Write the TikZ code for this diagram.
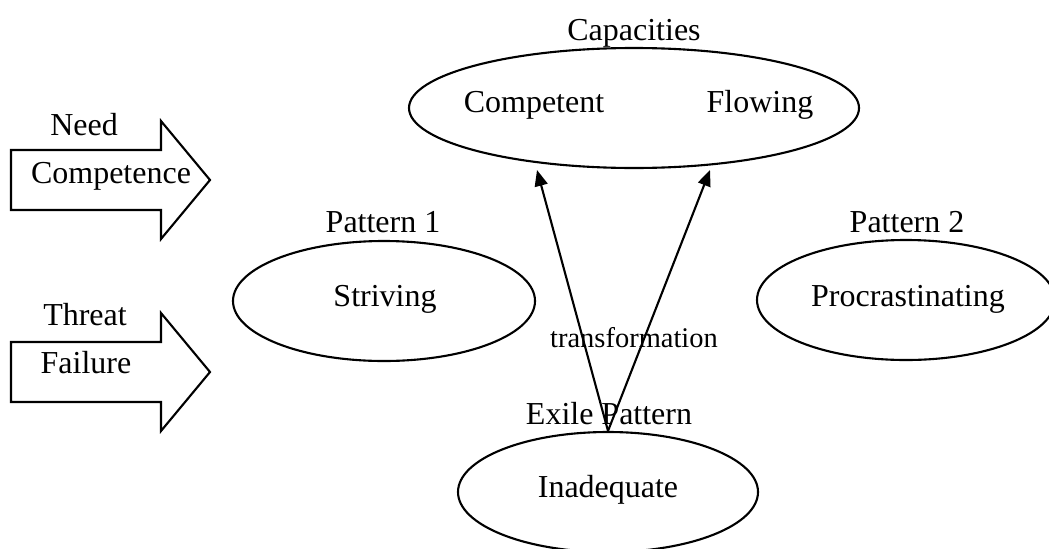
\documentclass[tikz,border=0pt]{standalone}
\usepackage{fontspec}
\setmainfont{Liberation Serif}
\usetikzlibrary{shapes.geometric,arrows.meta}
\tikzset{
	oval/.style={draw, ellipse, line width=0.6pt, inner sep=0pt, minimum height=1.2cm},
	txt/.style={anchor=base, inner sep=0pt, font=\fontsize{9.1}{10}\selectfont},
	blockarrow/.style={draw, line width=0.6pt},
	trans/.style={-{Triangle[length=1.6mm,width=1.3mm]}, line width=0.6pt}
}
\begin{document}
\begin{tikzpicture}
		% Rahmen
		\useasboundingbox (0,0) rectangle (10.49,5.48);
		% Blockpfeile links
		\foreach \y in {3.38,1.46} {
			\draw [blockarrow] (0.11,\y) -- ++(0,0.60) -- ++(1.5,0) -- ++(0,0.29) -- ++(0.49,-0.59) -- ++(-0.49,-0.59) -- ++(0,0.29) -- cycle;
		}
		\node [txt] (need) at (0.84,4.13) {Need};
		\node [txt] (competence) at (1.11,3.65) {Competence};
		\node [txt] (threat) at (0.85,2.23) {Threat};
		\node [txt] (failure) at (0.86,1.75) {Failure};
		% Capacities
		\node [oval, minimum width=4.5cm] (capacities) at (6.34,4.40) {};
		\node [txt] (capacitiesLabel) at (6.34,5.07) {Capacities};
		\node [txt] (competent) at (5.34,4.36) {Competent};
		\node [txt] (flowing) at (7.60,4.36) {Flowing};
		% Pattern 1
		\node [oval, minimum width=3.02cm] (pattern1) at (3.84,2.47) {};
		\node [txt] (pattern1Label) at (3.83,3.16) {Pattern 1};
		\node [txt] (striving) at (3.85,2.42) {Striving};
		% Pattern 2
		\node [oval, minimum width=2.98cm] (pattern2) at (9.06,2.48) {};
		\node [txt] (pattern2Label) at (9.07,3.16) {Pattern 2};
		\node [txt] (procrastinating) at (9.08,2.42) {Procrastinating};
		% Exile Pattern
		\node [oval, minimum width=3.0cm] (exile) at (6.08,0.56) {};
		\node [txt] (exileLabel) at (6.09,1.24) {Exile Pattern};
		\node [txt] (inadequate) at (6.08,0.51) {Inadequate};
		% Transformation
		\coordinate (tipA) at (5.37,3.78);
		\coordinate (tipB) at (7.10,3.78);
		\draw [trans] (exile.north) -- (tipA);
		\draw [trans] (exile.north) -- (tipB);
		\node [txt, font=\fontsize{8.1}{9}\selectfont] (transformation) at (6.34,2.01) {transformation};
\end{tikzpicture}
\end{document}
